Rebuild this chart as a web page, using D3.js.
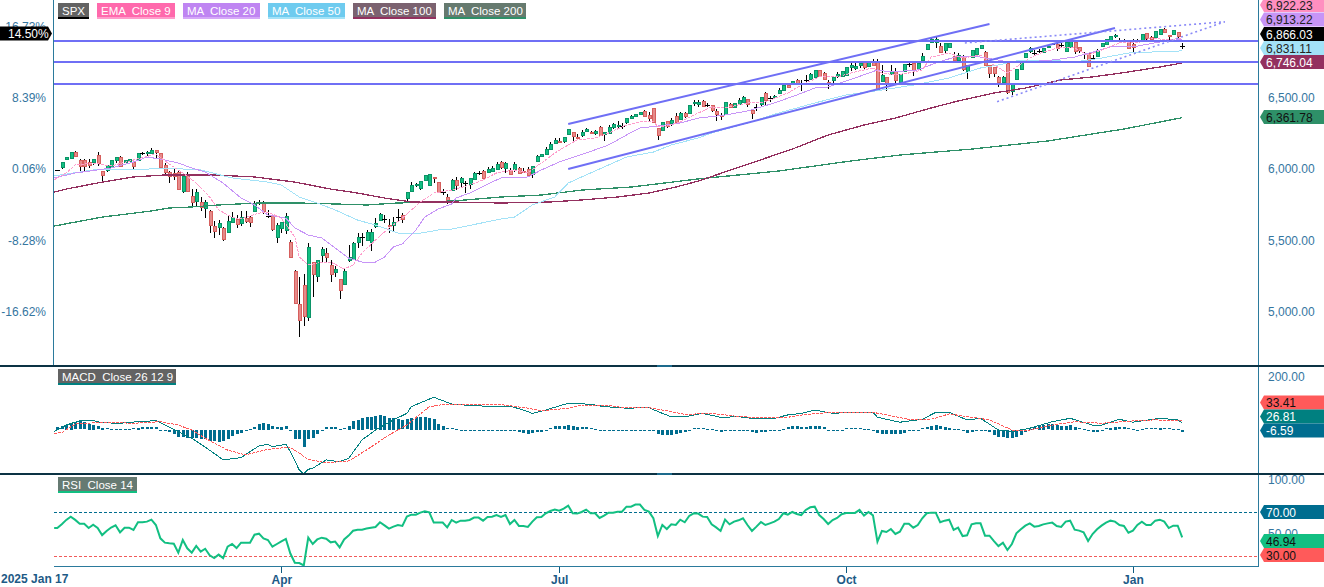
<!DOCTYPE html>
<html>
<head>
<meta charset="utf-8">
<script src="https://cdn.jsdelivr.net/npm/d3@7/dist/d3.min.js"></script>
<style>
html, body { margin: 0; padding: 0; background: #fff; overflow: hidden; }
svg { display: block; font-family: "Liberation Sans", Arial, sans-serif; }
text { white-space: pre; }
</style>
</head>
<body>
<div id="chart"></div>
<script>
// bar 0 = 2025 Jan 17, one entry per trading day
const opens = [
  5996,6010,6073,6073,6120,6064,6064,6052,6048,6099,
  5987,5994,6017,6064,6085,6048,6052,6048,6059,6113,
  6113,6115,6132,6111,6027,5978,5971,5978,5848,5964,
  5811,5771,5769,5722,5706,5600,5588,5588,5556,5630,
  5649,5623,5659,5661,5708,5770,5764,5670,5677,5518,
  5588,5572,5488,5282,5055,5183,4958,5345,5244,5396,
  5408,5326,5272,5226,5195,5363,5366,5483,5525,5497,
  5490,5595,5640,5648,5605,5607,5662,5677,5799,5849,
  5886,5862,5924,5890,5943,5909,5838,5802,5851,5921,
  5905,5903,5890,5933,5975,5985,5982,5992,6003,6050,
  6003,5996,5999,6010,5987,5999,5966,6057,6087,6108,
  6141,6186,6196,6193,6242,6259,6228,6242,6266,6261,
  6249,6294,6245,6254,6294,6303,6306,6326,6362,6371,
  6387,6406,6378,6428,6287,6270,6336,6322,6373,6352,
  6392,6390,6463,6456,6479,6451,6449,6411,6378,6387,
  6458,6432,6458,6472,6491,6416,6437,6453,6533,6498,
  6502,6530,6554,6591,6601,6627,6608,6627,6639,6650,
  6697,6674,6612,6625,6657,6657,6662,6716,6713,6737,
  6751,6720,6762,6751,6622,6646,6669,6690,6610,6692,
  6739,6744,6706,6769,6844,6889,6889,6866,6837,6854,
  6795,6767,6795,6690,6788,6814,6854,6825,6732,6716,
  6650,6615,6744,6549,6636,6706,6786,6825,6818,6832,
  6818,6860,6877,6880,6872,6833,6861,6896,6856,6807,
  6814,6779,6795,6866,6877,6903,6934,6903,6903,6896,
  6880,6900,6908,6955,6927,6931,6950,6985,6941,6948,6962,6867
]
const highs = [
  5997,6048,6085,6119,6127,6071,6071,6071,6071,6120,
  5990,6030,6064,6085,6090,6064,6069,6055,6111,6120,
  6127,6148,6135,6113,6041,5984,6006,5985,5952,5982,
  5858,5858,5806,5783,5715,5635,5642,5592,5673,5697,
  5677,5708,5703,5668,5776,5783,5778,5713,5680,5619,
  5630,5689,5500,5290,5240,5260,5479,5350,5362,5450,
  5448,5361,5319,5230,5303,5467,5490,5549,5549,5572,
  5577,5654,5694,5677,5647,5661,5718,5689,5839,5907,
  5905,5914,5957,5964,5945,5912,5858,5823,5930,5947,
  5944,5919,5937,5982,5989,5994,6017,6022,6048,6057,
  6052,6006,6052,6017,6006,6017,6020,6099,6104,6153,
  6188,6217,6217,6224,6280,6262,6247,6275,6291,6270,
  6275,6303,6262,6310,6322,6336,6322,6357,6380,6390,
  6404,6415,6404,6430,6290,6329,6340,6357,6392,6404,
  6404,6450,6486,6486,6486,6463,6452,6421,6392,6472,
  6465,6463,6498,6514,6495,6419,6458,6505,6540,6514,
  6519,6568,6603,6600,6617,6636,6627,6662,6678,6697,
  6700,6680,6627,6648,6685,6692,6716,6748,6755,6755,
  6755,6758,6772,6772,6732,6650,6732,6709,6667,6739,
  6755,6748,6748,6814,6880,6927,6931,6889,6884,6884,
  6821,6814,6802,6732,6837,6854,6873,6830,6735,6720,
  6653,6652,6748,6598,6706,6767,6814,6857,6837,6847,
  6850,6868,6885,6884,6885,6896,6904,6900,6860,6825,
  6818,6802,6844,6885,6913,6936,6950,6920,6915,6900,
  6915,6913,6950,6960,6935,6973,6985,6995,6945,6980,6966,6885
]
const lows = [
  5995,6004,6073,6073,6090,5987,5987,6008,6029,6022,
  5916,5980,6010,6043,6020,6043,6048,6001,6055,6099,
  6092,6106,6078,6010,5950,5905,5924,5858,5834,5841,
  5727,5736,5708,5659,5553,5518,5537,5497,5550,5625,
  5588,5600,5623,5595,5705,5747,5685,5655,5567,5483,
  5553,5542,5385,5056,4820,4899,4932,5103,5208,5349,
  5349,5209,5244,5089,5190,5349,5362,5448,5460,5495,
  5427,5588,5637,5619,5549,5567,5626,5619,5778,5842,
  5876,5853,5920,5888,5900,5830,5818,5755,5849,5853,
  5876,5835,5858,5930,5959,5924,5980,5990,6000,5999,
  5975,5964,5982,5972,5971,5952,5935,6055,6085,6106,
  6139,6183,6181,6186,6240,6200,6216,6228,6264,6247,
  6240,6238,6200,6252,6280,6291,6280,6315,6352,6369,
  6385,6368,6329,6333,6205,6265,6287,6303,6322,6350,
  6357,6388,6446,6439,6446,6435,6404,6340,6345,6385,
  6437,6430,6455,6470,6439,6352,6411,6444,6444,6474,
  6500,6528,6552,6578,6598,6600,6551,6603,6637,6648,
  6652,6630,6563,6603,6638,6655,6660,6692,6697,6709,
  6704,6718,6732,6552,6620,6551,6667,6603,6603,6690,
  6720,6657,6697,6767,6842,6885,6854,6820,6814,6852,
  6765,6760,6690,6634,6786,6812,6851,6735,6638,6645,
  6575,6600,6530,6521,6634,6704,6784,6816,6802,6816,
  6815,6855,6870,6830,6860,6831,6859,6809,6814,6772,
  6718,6767,6793,6864,6875,6901,6922,6889,6890,6843,
  6826,6888,6906,6908,6910,6929,6948,6965,6892,6946,6913,6843
]
const closes = [
  5997,6048,6085,6118,6094,6024,6024,6029,6071,6041,
  5961,6029,6064,6085,6024,6064,6069,6017,6111,6112,
  6121,6138,6115,6013,5978,5952,5947,5858,5952,5841,
  5771,5837,5736,5767,5609,5567,5619,5511,5633,5666,
  5612,5666,5637,5626,5764,5771,5708,5669,5577,5605,
  5628,5670,5385,5060,4944,4967,5450,5258,5359,5436,
  5382,5263,5296,5146,5284,5385,5478,5521,5526,5556,
  5560,5619,5682,5647,5595,5628,5661,5651,5839,5888,
  5895,5914,5957,5964,5933,5841,5837,5783,5921,5883,
  5935,5902,5935,5973,5974,5933,6001,6010,6036,6015,
  6041,5968,6034,5978,5978,5959,6020,6092,6104,6141,
  6179,6205,6189,6224,6280,6228,6221,6261,6280,6252,
  6266,6240,6261,6294,6315,6308,6305,6357,6373,6387,
  6399,6369,6359,6333,6235,6329,6303,6345,6333,6392,
  6369,6449,6472,6472,6446,6450,6411,6387,6369,6472,
  6439,6463,6486,6505,6458,6397,6436,6505,6481,6499,
  6512,6554,6591,6579,6617,6603,6607,6628,6671,6697,
  6655,6632,6604,6648,6669,6692,6716,6732,6725,6748,
  6713,6758,6734,6556,6662,6603,6690,6627,6667,6739,
  6740,6697,6748,6797,6880,6913,6913,6823,6884,6884,
  6767,6802,6704,6732,6837,6854,6873,6737,6674,6674,
  6615,6650,6537,6598,6706,6767,6814,6849,6819,6833,
  6849,6866,6878,6849,6873,6896,6903,6830,6837,6808,
  6720,6780,6837,6885,6913,6936,6941,6904,6902,6854,
  6861,6901,6950,6920,6913,6973,6983,6966,6931,6978,6936,6866
]

// moving averages, [bar, price], bar -0.7 is the pane's left edge
const ema9 = [[-0.7,5925],[2,5973],[4,6029],[8,6043],[12,6022],[17,6064],[22,6106],[25,6036],[28,5973],[31,5903],[34,5804],[36,5713],[39,5663],[41,5649],[45,5691],[47,5698],[50,5656],[53,5523],[54,5382],[56,5326],[58,5340],[61,5347],[64,5298],[66,5326],[68,5410],[71,5502],[74,5586],[77,5656],[81,5769],[84,5832],[88,5853],[92,5888],[95,5924],[98,5973],[102,5994],[105,5973],[108,6043],[111,6113],[114,6170],[116,6205],[120,6219],[123,6254],[127,6310],[130,6331],[133,6338],[134,6296],[136,6303],[139,6331],[142,6380],[146,6437],[149,6430],[154,6465],[158,6472],[163,6535],[166,6591],[170,6648],[174,6648],[178,6683],[182,6711],[184,6676],[187,6662],[190,6676],[193,6697],[195,6788],[199,6816],[202,6781],[206,6802],[209,6732],[212,6676],[214,6718],[217,6781],[220,6823],[224,6858],[227,6851],[230,6802],[233,6837],[237,6887],[241,6887],[244,6922],[248,6908],[251,6922.23]]
const ma20 = [[-0.7,5938],[4,5973],[9,5994],[12,6008],[17,6050],[20,6085],[23,6071],[27,6043],[30,6008],[33,5980],[37,5902],[41,5797],[44,5748],[47,5678],[51,5656],[53,5586],[56,5537],[59,5516],[62,5445],[65,5375],[68,5347],[71,5347],[73,5382],[75,5453],[77,5474],[80,5572],[82,5663],[85,5720],[88,5755],[89,5797],[92,5832],[96,5895],[99,5938],[105,5945],[108,5994],[112,6050],[118,6113],[123,6170],[127,6240],[130,6289],[134,6303],[139,6324],[143,6359],[149,6380],[154,6409],[160,6465],[165,6521],[169,6570],[172,6577],[178,6641],[183,6697],[186,6683],[192,6697],[196,6746],[201,6795],[206,6788],[210,6767],[213,6746],[216,6753],[222,6767],[227,6788],[231,6823],[235,6859],[240,6859],[246,6894],[251,6913.22]]
const ma50 = [[-0.7,5952],[8,5994],[17,5994],[24,6008],[32,5994],[39,5938],[47,5909],[50,5888],[54,5804],[58,5762],[62,5713],[67,5642],[71,5607],[76,5551],[80,5544],[85,5572],[88,5579],[99,5649],[102,5663],[106,5748],[111,5804],[114,5902],[118,5959],[123,6029],[127,6085],[133,6120],[137,6170],[143,6219],[146,6254],[154,6324],[161,6395],[169,6465],[176,6521],[184,6556],[191,6591],[199,6641],[206,6711],[210,6732],[215,6767],[221,6767],[227,6753],[233,6781],[239,6816],[244,6823],[251,6831.11]]
const ma100 = [[-0.7,5839],[2,5860],[10,5909],[17,5945],[24,5959],[35,5959],[44,5945],[53,5909],[61,5860],[67,5832],[73,5797],[79,5769],[88,5769],[99,5762],[110,5769],[117,5783],[125,5804],[132,5832],[138,5874],[143,5916],[164,6141],[172,6240],[180,6310],[187,6359],[195,6430],[201,6479],[209,6535],[216,6570],[224,6627],[231,6648],[239,6683],[246,6718],[251,6746.04]]
const ma200 = [[-0.7,5600],[10,5663],[21,5706],[25,5727],[30,5734],[36,5748],[45,5762],[54,5762],[62,5755],[69,5748],[76,5762],[84,5769],[91,5783],[99,5804],[108,5818],[117,5853],[128,5874],[143,5931],[161,5987],[177,6057],[188,6099],[204,6141],[221,6198],[238,6282],[251,6361.78]]

// drawn lines on the price pane
const levels = [6903, 6755, 6600]
const channels = [[[114,6317],[208,7020]], [[114,6001],[236,6992]]]
const wedge = [[[202.5,6887],[260.5,7036]], [[209.7,6474],[260.5,7036]]]

const macdLine = [[-0.7,-8],[2,17],[5,34],[8,34],[10,26],[14,24],[18,30],[22,34],[24,17],[27,-8],[30,-34],[32,-56],[35,-92],[37,-117],[41,-108],[45,-63],[47,-57],[48,-66],[51,-57],[52,-85],[54,-156],[55,-171],[56,-153],[57,-149],[60,-117],[63,-124],[65,-111],[68,-40],[71,-2],[75,37],[78,62],[79,88],[84,124],[88,98],[91,94],[97,88],[101,90],[104,75],[106,62],[109,75],[114,101],[119,97],[122,88],[127,82],[132,84],[135,62],[137,49],[140,49],[144,62],[148,47],[152,49],[155,43],[160,43],[163,56],[166,62],[169,75],[173,62],[177,66],[182,66],[183,47],[188,28],[193,39],[196,66],[199,66],[203,37],[206,43],[210,-2],[213,-8],[217,5],[222,30],[226,43],[231,17],[233,17],[237,39],[240,28],[246,43],[250,37],[251,26.81]]
const macdSignal = [[-0.7,-15],[1,-12],[4,21],[10,28],[17,24],[23,30],[27,17],[30,-2],[33,-34],[38,-79],[42,-98],[47,-76],[52,-68],[56,-115],[60,-128],[65,-121],[69,-79],[74,-21],[78,17],[83,88],[87,98],[93,97],[100,94],[105,82],[108,72],[114,82],[117,94],[123,92],[126,85],[132,84],[136,72],[140,58],[146,62],[151,52],[155,47],[163,47],[167,58],[173,66],[182,66],[186,53],[190,39],[195,39],[199,60],[204,47],[208,37],[213,-2],[217,-2],[222,17],[227,30],[233,24],[240,33],[245,37],[251,33.41]]
const macdHist = [
  10,13,18,26,28,31,27,23,18,12,
  6,4,1,1,3,1,1,4,6,8,
  8,9,8,-1,-1,-9,-15,-26,-28,-31,
  -31,-31,-35,-36,-41,-44,-45,-44,-33,-23,
  -15,-12,-4,3,8,23,26,23,13,8,
  10,12,-4,-36,-36,-64,-36,-31,-15,-3,
  8,8,8,1,4,15,31,38,45,47,
  49,51,56,52,45,45,42,36,40,45,
  49,49,49,45,41,23,15,5,4,0.5,
  -1,-5,-4,-1,-4,-1,-1,-1,-1,-1,
  -1,-5,-5,-8,-13,-15,-13,-9,-6,-1,
  5,13,13,13,19,14,10,9,9,4,
  1,-3,-4,-4,-3,-4,-3,-3,-1,-0.5,
  -1,-1,-1,-5,-14,-18,-18,-18,-15,-10,
  -9,-1,4,4,5,3,0.5,-1,-9,-5,
  -5,-5,-1,-1,-1,-6,-10,-6,-6,-1,
  -1,-1,3,8,13,13,8,9,13,13,
  13,8,-1,-1,-1,-1,4,4,4,4,
  0.5,3,-1,-13,-15,-15,-15,-15,-15,-10,
  -5,-4,-1,4,8,14,18,13,10,6,
  1,0.5,-3,-10,-8,-4,-4,-4,-8,-20,
  -28,-28,-31,-32,-28,-18,-6,3,8,15,
  19,20,22,19,15,15,18,10,4,0.5,
  -4,-9,-9,-1,4,6,10,9,8,4,
  0.5,-1,3,4,4,4,6,5,4,3,0.5,-6.59
]
const rsi = [
  55.5,59,63,66,63,59.5,59.5,55.5,58.6,55.5,
  49,52.8,56,58,51.5,55.8,55.8,53.7,60.8,60.8,
  61.4,63.2,58.3,46,42,41.4,41,32.8,44.5,36.8,
  32.8,39,33.7,36.4,30.3,27.8,31,27.8,38.3,40.8,
  37,42,42,42,49.4,50.3,46,44.5,38.3,40.8,
  43.2,45.4,32,23.5,23.2,21,46.6,40.8,45,46.6,
  45.7,42.3,43,37.7,45,48.5,53,54,54,55,
  55.8,56.5,60.8,58,55,56.8,58.3,57.4,66,67.8,
  67.8,69.7,71,70,60.5,60.5,60.5,56.1,62.9,60.5,
  62.3,62.3,62.9,65.1,65.1,62.3,65.7,66,67.5,65.7,
  67.5,59.2,62.9,57.4,57.4,56.5,61.4,65.4,65.7,69.1,
  71.2,72.5,71.5,73.4,76.2,69.1,68.8,70.3,72.5,69.1,
  69.1,64.8,66.9,69.7,69.7,70.6,70.6,75.2,75.2,77.1,
  77.1,72.2,70.6,64.5,48.1,58.3,54.6,58.9,58.3,63.2,
  60.8,66.6,69.1,68.8,66,65.7,58.9,56.1,52.8,63.2,
  58.9,61.4,62.6,64.5,58.3,52.8,56.8,61.1,58.3,59.8,
  61.4,63.8,69.1,67.8,70.3,68.5,67.5,72.2,74.6,75.2,
  67.5,63.8,59.2,62.9,64.8,68.2,69.4,69.4,69.4,72.2,
  66.9,70.3,67.2,42.9,52.8,51.8,54.6,50,52.1,59.5,
  59.5,55.8,58.3,64.5,69.1,69.7,69.7,60.8,62.3,63.2,
  53.7,55.8,48.1,48.8,58.9,59.8,59.8,48.5,48.5,43.5,
  38.9,42,35.2,40.8,50.6,54.3,57.7,59.8,56.8,57.4,
  58.9,59.8,60.5,57.4,56.5,61.4,62.3,54,53.1,51.5,
  43.5,50,54.3,57.7,60.5,62.3,61.4,58.3,57.4,51.2,
  53.1,58.3,61.4,58.3,58.3,62.3,63.2,61.4,55.5,57.7,57.7,46.94
]
const rsiBands = [70, 30]

const baseClose = 5996.66
const priceTicks = [5000, 5500, 6000, 6500]
const pctTicks = [5000, 5500, 6000, 6500, 7000]
const macdTicks = [200]
const rsiTicks = [100, 50]
const timeBars = [50, 112, 176, 240]
const timeLabels = ['Apr', 'Jul', 'Oct', 'Jan']

const W = 1324, H = 587
const leftX = 53.5, rightX = 1258.5

const svg = d3.select('#chart').append('svg').attr('width', W).attr('height', H)

const x = d3.scaleLinear().domain([0, 251]).range([57.3, 1182.2])
const yPrice = d3.scaleLinear().domain([5000, 6500]).range([311.4, 98])
const yMacd = d3.scaleLinear().domain([0, 200]).range([429.5, 377.5])
const yRsi = d3.scaleLinear().domain([30, 70]).range([555.7, 512.3])

const px = v => Math.round(x(v))
const up = '#12bf82', upEdge = '#0b9467', down = '#e58b8a', downEdge = '#d65f5d'
const axisBlue = '#35769f', borderBlue = '#2b7a9c', darkLine = '#0c3344'

// main pane clip, the lines end at the pane's edge
svg.append('clipPath').attr('id', 'mainClip').append('rect')
  .attr('x', leftX).attr('y', 0).attr('width', rightX - leftX).attr('height', 365)
svg.append('clipPath').attr('id', 'macdClip').append('rect')
  .attr('x', leftX).attr('y', 367).attr('width', rightX - leftX).attr('height', 106)
svg.append('clipPath').attr('id', 'rsiClip').append('rect')
  .attr('x', leftX).attr('y', 475).attr('width', rightX - leftX).attr('height', 92)

const main = svg.append('g').attr('clip-path', 'url(#mainClip)')

// candles
const bars = d3.range(closes.length)
const candle = main.append('g').selectAll('g').data(bars).join('g')
candle.append('line')
  .attr('x1', i => px(i) + 0.5).attr('x2', i => px(i) + 0.5)
  .attr('y1', i => yPrice(highs[i])).attr('y2', i => yPrice(lows[i]))
  .attr('stroke', '#000').attr('stroke-width', 1).attr('shape-rendering', 'crispEdges')
candle.filter(i => Math.abs(yPrice(opens[i]) - yPrice(closes[i])) >= 0.5).append('rect')
  .attr('x', i => px(i) - 1)
  .attr('width', 3)
  .attr('y', i => Math.round(yPrice(Math.max(opens[i], closes[i]))) + 0.5)
  .attr('height', i => Math.max(1, Math.round(Math.abs(yPrice(opens[i]) - yPrice(closes[i])))))
  .attr('fill', i => closes[i] >= opens[i] ? up : down)
  .attr('stroke', i => closes[i] >= opens[i] ? upEdge : downEdge)
  .attr('stroke-width', 1).attr('shape-rendering', 'crispEdges')
candle.filter(i => Math.abs(yPrice(opens[i]) - yPrice(closes[i])) < 0.5).append('line')
  .attr('x1', i => px(i) - 2).attr('x2', i => px(i) + 3)
  .attr('y1', i => Math.round(yPrice(closes[i])) + 0.5).attr('y2', i => Math.round(yPrice(closes[i])) + 0.5)
  .attr('stroke', '#000').attr('shape-rendering', 'crispEdges')

// moving averages
const priceLine = d3.line().x(d => x(d[0])).y(d => yPrice(d[1]))
const maLines = [
  [ma200, '#2e9068', 1.3, null],
  [ma100, '#93305f', 1.3, null],
  [ma50, '#a3e2f7', 1, null],
  [ma20, '#c795f7', 1, null],
  [ema9, '#ff9ccb', 1, '3,1']
]
maLines.forEach(m => {
  main.append('path').attr('d', priceLine(m[0])).attr('fill', 'none')
    .attr('stroke', m[1]).attr('stroke-width', m[2]).attr('stroke-dasharray', m[3])
    .attr('shape-rendering', 'crispEdges')
})

// levels and channels
main.append('g').selectAll('line').data(levels).join('line')
  .attr('x1', leftX).attr('x2', rightX)
  .attr('y1', d => Math.round(yPrice(d))).attr('y2', d => Math.round(yPrice(d)))
  .attr('stroke', '#6f6ff5').attr('stroke-width', 2).attr('shape-rendering', 'crispEdges')
main.append('g').selectAll('path').data(channels).join('path')
  .attr('d', priceLine).attr('fill', 'none')
  .attr('stroke', '#6f6ff5').attr('stroke-width', 2)
main.append('g').selectAll('path').data(wedge).join('path')
  .attr('d', priceLine).attr('fill', 'none')
  .attr('stroke', '#8a8af7').attr('stroke-width', 1.6).attr('stroke-dasharray', '2,3')

// MACD pane
const macdPane = svg.append('g').attr('clip-path', 'url(#macdClip)')
macdPane.append('g').selectAll('rect').data(bars).join('rect')
  .attr('x', i => px(i) - 1).attr('width', 3)
  .attr('y', i => Math.round(Math.min(yMacd(0), yMacd(macdHist[i]))))
  .attr('height', i => Math.max(1, Math.round(Math.abs(yMacd(macdHist[i]) - yMacd(0)))))
  .attr('fill', '#006d8f').attr('shape-rendering', 'crispEdges')
const macdPath = d3.line().x(d => x(d[0])).y(d => yMacd(d[1]))
macdPane.append('path').attr('d', macdPath(macdLine)).attr('fill', 'none')
  .attr('stroke', '#008080').attr('shape-rendering', 'crispEdges')
macdPane.append('path').attr('d', macdPath(macdSignal)).attr('fill', 'none')
  .attr('stroke', '#ff5a5a').attr('stroke-dasharray', '3,1').attr('shape-rendering', 'crispEdges')

// RSI pane
const rsiPane = svg.append('g').attr('clip-path', 'url(#rsiClip)')
rsiPane.append('g').selectAll('line').data(rsiBands).join('line')
  .attr('x1', leftX).attr('x2', rightX)
  .attr('y1', d => Math.round(yRsi(d)) + 0.5).attr('y2', d => Math.round(yRsi(d)) + 0.5)
  .attr('stroke', d => d == 70 ? '#006d8f' : '#f05a5a')
  .attr('stroke-dasharray', '3,2').attr('shape-rendering', 'crispEdges')
rsiPane.append('path')
  .attr('d', d3.line().x(d => x(d[0])).y(d => yRsi(d[1]))([[-0.7, rsi[0]]].concat(rsi.map((v, i) => [i, v]))))
  .attr('fill', 'none').attr('stroke', '#12bf82').attr('stroke-width', 2)

// frame
function hLine(y1, color, w, x1, x2) {
  svg.append('line').attr('x1', x1).attr('x2', x2).attr('y1', y1).attr('y2', y1)
    .attr('stroke', color).attr('stroke-width', w).attr('shape-rendering', 'crispEdges')
}
svg.append('line').attr('x1', leftX).attr('x2', leftX).attr('y1', 0).attr('y2', 365)
  .attr('stroke', borderBlue).attr('shape-rendering', 'crispEdges')
svg.append('line').attr('x1', rightX).attr('x2', rightX).attr('y1', 0).attr('y2', 566.5)
  .attr('stroke', borderBlue).attr('shape-rendering', 'crispEdges')
hLine(566.5, borderBlue, 1, leftX, rightX)
hLine(366, darkLine, 2, 0, W)
hLine(474, darkLine, 2, 0, W)
hLine(366, '#1d6a8c', 2, 657, 672)
hLine(474, '#1d6a8c', 2, 657, 672)

// axes
function styleAxis(g) {
  g.select('.domain').remove()
  g.selectAll('text').attr('fill', axisBlue).attr('font-size', 12)
    .attr('font-family', '"Liberation Sans", Arial, sans-serif')
}
svg.append('g').attr('transform', 'translate(1268,0)')
  .call(d3.axisRight(yPrice).tickValues(priceTicks).tickSize(0).tickPadding(0).tickFormat(d3.format(',.2f')))
  .call(styleAxis)
svg.append('g').attr('transform', 'translate(46,0)')
  .call(d3.axisLeft(yPrice).tickValues(pctTicks).tickSize(0).tickPadding(0)
    .tickFormat(d => (100 * (d / baseClose - 1)).toFixed(2) + '%'))
  .call(styleAxis)
svg.append('g').attr('transform', 'translate(1268,-1)')
  .call(d3.axisRight(yMacd).tickValues(macdTicks).tickSize(0).tickPadding(0).tickFormat(d3.format('.2f')))
  .call(styleAxis)
svg.append('g').attr('transform', 'translate(1268,0)')
  .call(d3.axisRight(yRsi).tickValues(rsiTicks).tickSize(0).tickPadding(0).tickFormat(d3.format('.2f')))
  .call(styleAxis)

const timeAxis = svg.append('g').attr('transform', 'translate(0,566.5)')
  .call(d3.axisBottom(x).tickValues(timeBars).tickSize(6).tickPadding(3)
    .tickFormat(d => timeLabels[timeBars.indexOf(d)]))
timeAxis.select('.domain').remove()
timeAxis.selectAll('line').attr('stroke', '#0e5b80').attr('shape-rendering', 'crispEdges')
timeAxis.selectAll('text').attr('fill', '#1d5a86').attr('font-size', 12).attr('font-weight', 'bold')
  .attr('font-family', '"Liberation Sans", Arial, sans-serif')
svg.append('text').attr('x', 1).attr('y', 583).attr('fill', '#1d5a86')
  .attr('font-size', 12).attr('font-weight', 'bold').text('2025 Jan 17')

// legend chips
function chip(label, x0, x1, y0, y1, fill, under) {
  svg.append('rect').attr('x', x0).attr('y', y0).attr('width', x1 - x0).attr('height', y1 - y0).attr('fill', fill)
  svg.append('rect').attr('x', x0).attr('y', y1 - 2).attr('width', x1 - x0).attr('height', 2).attr('fill', under)
  svg.append('text').attr('x', x0 + 4).attr('y', y0 + 12).attr('fill', '#fff')
    .attr('font-size', 11.5).text(label)
}
chip('SPX', 58, 89, 3, 19, '#636363', '#000')
chip('EMA  Close 9', 97, 175, 3, 19, '#ff69ac', '#ff9ccb')
chip('MA  Close 20', 183, 260, 3, 19, '#bf85f2', '#d5a8f8')
chip('MA  Close 50', 268, 345, 3, 19, '#6ecbef', '#a3e2f7')
chip('MA  Close 100', 353, 436, 3, 19, '#7b6270', '#93305f')
chip('MA  Close 200', 444, 526, 3, 19, '#667a6f', '#2e9068')
chip('MACD  Close 26 12 9', 58, 176, 369, 385, '#636363', '#008080')
chip('RSI  Close 14', 58, 137, 477, 493, '#667a72', '#12bf82')

// value tags on the right, stacked so they do not overlap
function tagRight(value, yc, fill, color) {
  const h = 14, xl = 1260, xb = 1264
  svg.append('path')
    .attr('d', d3.line()([[xl, yc], [xb, yc - h / 2], [W, yc - h / 2], [W, yc + h / 2], [xb, yc + h / 2]]) + 'Z')
    .attr('fill', fill)
  svg.append('text').attr('x', 1266).attr('y', yc + 4.5).attr('fill', color).attr('font-size', 12).text(value)
}
tagRight('6,922.23', 5, '#ff8fc0', '#222')
tagRight('6,913.22', 19.5, '#c795f7', '#222')
tagRight('6,866.03', 34, '#000', '#fff')
tagRight('6,831.11', 48, '#a3e2f7', '#222')
tagRight('6,746.04', 62, '#93305f', '#fff')
tagRight('6,361.78', 117, '#2e9068', '#111')
tagRight('33.41', 402.5, '#ff5a5a', '#111')
tagRight('26.81', 416.5, '#008080', '#fff')
tagRight('-6.59', 430.5, '#006d8f', '#fff')
tagRight('70.00', 512, '#006d8f', '#fff')
tagRight('46.94', 541, '#12bf82', '#111')
tagRight('30.00', 555, '#ff5a5a', '#111')

// percent tag on the left
svg.append('path')
  .attr('d', d3.line()([[0, 26.5], [48, 26.5], [52, 33.5], [48, 40.5], [0, 40.5]]) + 'Z')
  .attr('fill', '#000')
svg.append('text').attr('x', 8).attr('y', 38).attr('fill', '#fff').attr('font-size', 12).text('14.50%')
</script>
</body>
</html>
